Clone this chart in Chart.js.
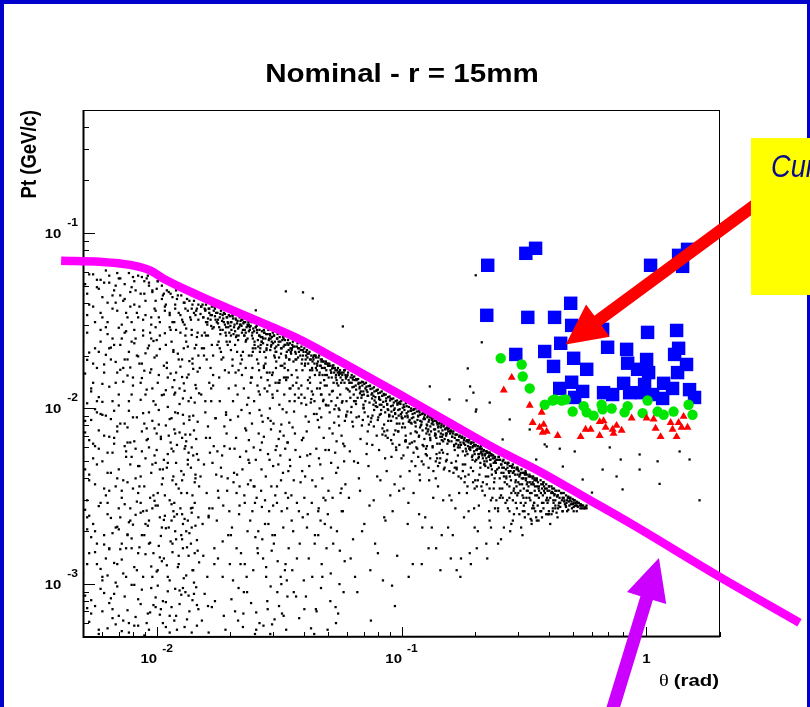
<!DOCTYPE html>
<html><head><meta charset="utf-8">
<script src="https://cdn.jsdelivr.net/npm/chart.js@4/dist/chart.umd.min.js"></script>
<style>html,body{margin:0;padding:0;background:#fff;}canvas{display:block;}</style>
</head><body>
<canvas id="c" width="810" height="707"></canvas>
<script>
// ---------- text ----------
const titleText = 'Nominal - r = 15mm';
const xTitleSymbol = 'θ';
const xTitleText = '(rad)';
const yTitleText = 'Pt (GeV/c)';
const boxText = 'Current cut';

// ---------- axes ----------
const xRange = [0.005, 2];
const yRange = [0.0005, 0.5];
const xMajorTicks = [0.01, 0.1, 1];
const xTickLabels = [['10', '-2'], ['10', '-1'], ['1', '']];
const yMajorTicks = [0.001, 0.01, 0.1];
const yTickLabels = [['10', '-3'], ['10', '-2'], ['10', '-1']];

// ---------- cut curve (theta rad, Pt GeV/c) ----------
const cutTheta = [0.00407, 0.00587, 0.00778, 0.00939, 0.01061, 0.01502, 0.02403, 0.03845, 0.05759, 0.09842, 0.1574, 0.2449, 0.3667, 0.5869, 0.8547, 1.992, 4.224];
const cutPt = [0.0693, 0.0684, 0.0657, 0.0611, 0.0550, 0.0436, 0.0329, 0.0247, 0.0182, 0.0120, 0.00827, 0.00584, 0.00438, 0.00301, 0.00223, 0.00110, 0.000603];

// ---------- coloured markers [theta rad, Pt GeV/c] ----------
const blueSquares = [[0.225,0.0653],[0.322,0.0764],[0.353,0.0816],[1.041,0.0653],[1.355,0.0744],[1.474,0.0805],[1.407,0.0644],
[0.223,0.0339],[0.328,0.0330],[0.422,0.0330],[0.491,0.0397],[0.4955,0.0297],[0.663,0.0282],[0.447,0.0235],[0.3845,0.0211],
[0.293,0.0203],[0.418,0.01735],[0.505,0.0193],[0.571,0.0167],[0.695,0.0223],[0.831,0.0217],[1.012,0.0271],[1.330,0.0278],
[1.355,0.0220],[1.305,0.0203],[1.003,0.0190],[0.839,0.0181],[0.9215,0.0167],[1.022,0.0160],[1.460,0.0178],[1.342,0.0160],
[0.443,0.0130],[0.4955,0.0141],[0.5496,0.0125],[0.5097,0.01155],[0.669,0.0123],[0.7285,0.0120],[0.808,0.0139],[0.984,0.0137],
[0.957,0.0123],[1.177,0.0139],[1.166,0.0114],[1.280,0.0130],[1.502,0.0128],[1.574,0.01155],[0.855,0.0123],[1.061,0.0120]];
const greenCircles = [[0.2543,0.0193],[0.3097,0.0178],[0.3128,0.0152],[0.334,0.0130],[0.3845,0.0105],[0.422,0.01125],[0.451,0.0111],
[0.5003,0.0096],[0.5548,0.0103],[0.571,0.0095],[0.609,0.0091],[0.657,0.0105],[0.663,0.0099],[0.722,0.0100],[0.815,0.0095],
[0.839,0.0103],[0.966,0.0094],[1.012,0.0111],[1.112,0.0096],[1.177,0.0092],[1.292,0.0096],[1.488,0.0105],[1.545,0.0092],
[0.4686,0.01125],[0.4144,0.0111]];
const redTriangles = [[0.282,0.0150],[0.2616,0.0127],[0.334,0.0104],[0.3738,0.0095],[0.3435,0.0083],[0.3667,0.0078],[0.3809,0.0081],
[0.392,0.0074],[0.3774,0.0073],[0.4345,0.0070],[0.539,0.0069],[0.565,0.0076],[0.5925,0.0076],[0.645,0.0084],[0.669,0.0085],
[0.682,0.0078],[0.645,0.0070],[0.7285,0.0076],[0.756,0.0080],[0.793,0.0075],[0.735,0.0072],[0.871,0.0088],[1.071,0.0087],
[1.091,0.0077],[1.144,0.0069],[1.257,0.0083],[1.280,0.0076],[1.355,0.0083],[1.394,0.0078],[1.474,0.0078],[1.420,0.0090],
[1.330,0.0069],[1.003,0.0088]];

// ---------- black scatter dots [theta rad, Pt GeV/c] ----------
const dotsLeft = [[0.0053,0.058],[0.0057,0.049],[0.0062,0.061],[0.0066,0.044],[0.0071,0.055],[0.0077,0.059],[0.0082,0.047],[0.0087,0.056],[0.0093,0.052],[0.0099,0.041],[0.0105,0.050],[0.0112,0.046],[0.0119,0.039],[0.0126,0.044],[0.0134,0.036],[0.0142,0.041],[0.0055,0.038],[0.006,0.033],[0.0064,0.052],[0.0069,0.036],[0.0074,0.042],[0.0079,0.031],[0.0085,0.038],[0.009,0.034],[0.0096,0.047],[0.0102,0.033],[0.0109,0.039],[0.0116,0.031],[0.0123,0.035],[0.013,0.040],[0.0138,0.032],[0.0146,0.037],[0.0052,0.045],[0.0059,0.054],[0.0068,0.05],[0.0075,0.035],[0.0081,0.053],[0.0089,0.045],[0.0095,0.03],[0.0101,0.053],[0.0108,0.036],[0.0114,0.045],[0.0121,0.042],[0.0128,0.031],[0.0136,0.041],[0.0144,0.034],[0.0056,0.031],[0.0063,0.04],[0.0072,0.03],[0.0078,0.046],[0.0084,0.033],[0.0092,0.057],[0.0098,0.037],[0.0106,0.044],[0.0113,0.034],[0.0131,0.037],[0.0148,0.039],
[0.0052,0.027],[0.0058,0.021],[0.0061,0.016],[0.0066,0.025],[0.007,0.012],[0.0076,0.019],[0.0081,0.028],[0.0086,0.014],[0.0092,0.022],[0.0097,0.011],[0.0103,0.026],[0.011,0.017],[0.0117,0.021],[0.0124,0.013],[0.0132,0.024],[0.014,0.018],[0.0147,0.027],[0.0054,0.013],[0.0059,0.024],[0.0065,0.019],[0.0071,0.023],[0.0077,0.011],[0.0083,0.02],[0.0088,0.026],[0.0094,0.016],[0.01,0.02],[0.0107,0.012],[0.0114,0.028],[0.012,0.016],[0.0127,0.019],[0.0135,0.011],[0.0143,0.022],[0.0055,0.018],[0.0062,0.029],[0.0068,0.014],[0.0074,0.027],[0.008,0.015],[0.0087,0.018],[0.0095,0.025],[0.0101,0.014],[0.0109,0.023],[0.0118,0.012],[0.0125,0.027],[0.0133,0.015],[0.0145,0.013],[0.0057,0.011],[0.0064,0.022],[0.0073,0.017],[0.0079,0.024],[0.009,0.012],[0.0099,0.029],[0.0111,0.015],[0.0129,0.022],[0.0139,0.028],
[0.0051,0.0085],[0.0056,0.0061],[0.006,0.0092],[0.0065,0.0043],[0.0069,0.0074],[0.0075,0.0053],[0.008,0.0089],[0.0085,0.0036],[0.0091,0.0066],[0.0096,0.0048],[0.0102,0.0081],[0.0108,0.0032],[0.0115,0.0059],[0.0122,0.0094],[0.0129,0.0042],[0.0137,0.0071],[0.0146,0.0055],[0.0053,0.0039],[0.0058,0.0075],[0.0063,0.0056],[0.0067,0.0097],[0.0072,0.0034],[0.0078,0.0064],[0.0084,0.0047],[0.0089,0.0082],[0.0094,0.0031],[0.01,0.0058],[0.0106,0.0045],[0.0113,0.0087],[0.012,0.0037],[0.0127,0.0068],[0.0134,0.0051],[0.0141,0.0091],[0.0055,0.0052],[0.0061,0.0035],[0.0067,0.0063],[0.0074,0.0082],[0.0082,0.004],[0.0087,0.0057],[0.0093,0.0095],[0.0104,0.0067],[0.0111,0.0049],[0.0119,0.0072],[0.0126,0.0033],[0.0136,0.0086],[0.0144,0.004],[0.0057,0.0095],[0.0064,0.0069],[0.0076,0.0038],[0.0098,0.0077],[0.0117,0.0041],[0.0131,0.0061],
[0.0052,0.0024],[0.0057,0.0013],[0.0061,0.0019],[0.0066,0.00072],[0.007,0.0027],[0.0075,0.0011],[0.0079,0.0016],[0.0084,0.00058],[0.009,0.0022],[0.0095,0.00095],[0.0101,0.0028],[0.0107,0.0014],[0.0113,0.00066],[0.012,0.0018],[0.0127,0.0025],[0.0135,0.00086],[0.0143,0.0015],[0.0054,0.00081],[0.0059,0.0029],[0.0064,0.0016],[0.0068,0.0021],[0.0073,0.00062],[0.0078,0.0023],[0.0083,0.0012],[0.0088,0.0026],[0.0093,0.0017],[0.0099,0.00074],[0.0105,0.0021],[0.0111,0.0011],[0.0118,0.0029],[0.0124,0.00092],[0.0132,0.002],[0.014,0.0012],[0.0148,0.0024],[0.0053,0.0015],[0.0058,0.00055],[0.0063,0.0025],[0.0069,0.0013],[0.0076,0.0019],[0.0081,0.00099],[0.0086,0.0029],[0.0092,0.00068],[0.0097,0.0015],[0.0103,0.0024],[0.0109,0.00079],[0.0116,0.0017],[0.0123,0.0013],[0.013,0.00057],[0.0138,0.0027],[0.0146,0.00076],[0.0056,0.002],[0.006,0.0011],[0.0067,0.00088],[0.0072,0.0017],[0.0087,0.0019],[0.0096,0.0027],[0.0106,0.0006],[0.0115,0.0023],[0.0128,0.0016],[0.0139,0.0021],[0.0077,0.00053],[0.0101,0.0012]];

const dotsBandMid = [[0.0152,0.038],[0.0155,0.033],[0.0158,0.036],[0.0161,0.031],[0.0164,0.037],[0.0168,0.034],[0.0171,0.029],[0.0175,0.035],[0.0178,0.032],[0.0182,0.028],[0.0186,0.034],[0.019,0.03],[0.0194,0.033],[0.0198,0.027],[0.0202,0.031],[0.0207,0.029],[0.0211,0.032],[0.0216,0.026],[0.022,0.03],[0.0225,0.028],[0.023,0.031],[0.0235,0.025],[0.024,0.029],[0.0246,0.027],[0.0251,0.023],[0.0257,0.028],[0.0263,0.026],[0.0269,0.024],[0.0275,0.027],[0.0281,0.022],[0.0288,0.025],[0.0294,0.023],[0.0301,0.026],[0.0308,0.021],[0.0315,0.024],[0.0322,0.022],[0.033,0.025],[0.0337,0.02],[0.0345,0.023],[0.0353,0.021],[0.0361,0.0225],[0.0369,0.019],[0.0378,0.022],[0.0386,0.02],[0.0395,0.0215],[0.0404,0.018],[0.0413,0.0205],[0.0423,0.019],[0.0432,0.0165],[0.0442,0.02],[0.0452,0.018],[0.0462,0.0155],[0.0473,0.019],[0.0484,0.017],[0.0495,0.018],[0.0159,0.039],[0.0173,0.037],[0.0188,0.031],[0.0204,0.034],[0.0222,0.032],[0.0238,0.03],[0.0254,0.029],[0.0272,0.025],[0.0291,0.026],[0.0311,0.025],[0.0333,0.023],[0.0357,0.022],[0.0381,0.021],[0.0408,0.02],[0.0437,0.019],[0.0467,0.0175],[0.0166,0.032],[0.0196,0.029],[0.0228,0.026],[0.0266,0.023],[0.0304,0.022],[0.0348,0.019],[0.0391,0.018],[0.0447,0.017],[0.0488,0.0155]];

const dotsMid = [[0.0153,0.026],[0.016,0.019],[0.0167,0.013],[0.0174,0.0088],[0.0181,0.022],[0.0189,0.0061],[0.0197,0.016],[0.0205,0.011],[0.0213,0.0042],[0.0223,0.019],[0.0232,0.0075],[0.0242,0.014],[0.0252,0.0029],[0.0263,0.0098],[0.0274,0.017],[0.0285,0.0055],[0.0297,0.012],[0.031,0.0036],[0.0323,0.0081],[0.0337,0.015],[0.0351,0.0047],[0.0366,0.011],[0.0381,0.0026],[0.0397,0.0068],[0.0414,0.013],[0.0432,0.0039],[0.045,0.0093],[0.0469,0.012],[0.0489,0.0058],[0.0156,0.0048],[0.0163,0.0024],[0.017,0.0155],[0.0178,0.0034],[0.0186,0.0011],[0.0193,0.0072],[0.0201,0.0019],[0.021,0.0135],[0.0218,0.0028],[0.0227,0.0009],[0.0237,0.0051],[0.0247,0.021],[0.0258,0.0016],[0.0269,0.0064],[0.028,0.0011],[0.0292,0.0085],[0.0304,0.0019],[0.0317,0.014],[0.033,0.00066],[0.0344,0.0031],[0.0359,0.0078],[0.0374,0.0014],[0.039,0.0107],[0.0407,0.00085],[0.0424,0.0055],[0.0442,0.0017],[0.0461,0.0078],[0.048,0.0031],[0.0158,0.011],[0.0165,0.0068],[0.0172,0.0013],[0.0184,0.0041],[0.0199,0.024],[0.0208,0.0059],[0.0221,0.0015],[0.0234,0.0105],[0.0249,0.0036],[0.0261,0.0125],[0.0277,0.0022],[0.0289,0.016],[0.0306,0.0058],[0.0321,0.0011],[0.0339,0.0095],[0.0356,0.0023],[0.0372,0.0165],[0.0393,0.0044],[0.0411,0.0021],[0.0428,0.0113],[0.0447,0.00072],[0.0466,0.0048],[0.0486,0.0135],[0.0162,0.00075],[0.0177,0.0057],[0.0192,0.0095],[0.0212,0.0033],[0.0229,0.0013],[0.0245,0.0082],[0.0268,0.0045],[0.0283,0.0008],[0.0299,0.0028],[0.0326,0.0175],[0.0342,0.0064],[0.0363,0.0009],[0.0385,0.0053],[0.0418,0.0084],[0.0457,0.0026],[0.0493,0.0104],[0.0169,0.0027],[0.0215,0.00062],[0.0255,0.00055],[0.0296,0.00059],[0.0336,0.0013],[0.0401,0.0031],[0.0475,0.0011]];

const dotsBandC = [[0.0505,0.0175],[0.0516,0.016],[0.0527,0.0176],[0.0539,0.015],[0.055,0.017],[0.0562,0.0158],[0.0574,0.0145],[0.0587,0.0165],[0.0599,0.0152],[0.0612,0.014],[0.0626,0.0155],[0.0639,0.0133],[0.0653,0.0147],[0.0667,0.0138],[0.0682,0.0125],[0.0697,0.0141],[0.0712,0.013],[0.0727,0.0118],[0.0743,0.0134],[0.0759,0.0122],[0.0776,0.0111],[0.0793,0.0127],[0.081,0.0116],[0.0828,0.0105],[0.0846,0.0121],[0.0864,0.011],[0.0883,0.0098],[0.0902,0.0114],[0.0922,0.0104],[0.0942,0.0093],[0.0962,0.0107],[0.0983,0.0099],[0.1004,0.0088],[0.1026,0.0102],[0.1049,0.0094],[0.1071,0.0084],[0.1095,0.0097],[0.1118,0.0089],[0.1143,0.0079],[0.1168,0.0091],[0.1193,0.0085],[0.1219,0.0075],[0.1246,0.0087],[0.1273,0.008],[0.13,0.0071],[0.1329,0.0082],[0.1358,0.0076],[0.1387,0.0068],[0.1417,0.0079],[0.1448,0.0072],[0.148,0.0065],[0.0521,0.0169],[0.0556,0.0161],[0.0593,0.0151],[0.0633,0.0146],[0.0675,0.0133],[0.072,0.0127],[0.0768,0.0118],[0.0819,0.0112],[0.0874,0.0105],[0.0932,0.0098],[0.0994,0.0093],[0.106,0.0089],[0.1131,0.0084],[0.1206,0.0081],[0.1287,0.0076],[0.1372,0.0072],[0.1464,0.0069],[0.0545,0.0139],[0.0605,0.0128],[0.0689,0.0119],[0.0785,0.0103],[0.0893,0.0091],[0.1015,0.0082],[0.1155,0.0073],[0.1312,0.0066],[0.1433,0.0063]];

const dotsC = [[0.0508,0.012],[0.0523,0.0072],[0.0541,0.0043],[0.0558,0.0098],[0.0576,0.0026],[0.0596,0.011],[0.0615,0.0057],[0.0634,0.0018],[0.0655,0.0089],[0.0677,0.0034],[0.0699,0.0105],[0.0722,0.0063],[0.0746,0.0012],[0.0771,0.0079],[0.0796,0.0041],[0.0823,0.0093],[0.085,0.0024],[0.0878,0.0068],[0.0907,0.0085],[0.0937,0.0037],[0.0968,0.0074],[0.1,0.0052],[0.1033,0.0078],[0.1067,0.0029],[0.1103,0.0064],[0.1139,0.0047],[0.1177,0.0069],[0.1216,0.0021],[0.1256,0.0055],[0.1297,0.0039],[0.134,0.0061],[0.1385,0.0016],[0.143,0.0049],[0.1478,0.0056],[0.0515,0.0021],[0.0551,0.00068],[0.0585,0.0061],[0.0622,0.0095],[0.0664,0.0049],[0.0705,0.0022],[0.0753,0.0088],[0.0801,0.0015],[0.0857,0.0052],[0.0915,0.00098],[0.0978,0.0034],[0.1042,0.0065],[0.1112,0.0013],[0.1185,0.0042],[0.1264,0.0072],[0.1348,0.0031],[0.1442,0.0012],[0.0532,0.0099],[0.0569,0.0035],[0.0646,0.0011],[0.0733,0.0047],[0.0836,0.0071],[0.0952,0.0058],[0.1079,0.0044],[0.1231,0.0061],[0.1398,0.0052]];

const dotsBandD = [[0.152,0.0072],[0.155,0.0066],[0.158,0.0074],[0.161,0.0069],[0.164,0.0062],[0.167,0.0071],[0.17,0.0066],[0.173,0.006],[0.177,0.0068],[0.18,0.0063],[0.184,0.0057],[0.187,0.0065],[0.191,0.006],[0.195,0.0054],[0.198,0.0062],[0.202,0.0058],[0.206,0.0052],[0.21,0.0059],[0.214,0.0055],[0.218,0.005],[0.223,0.0057],[0.227,0.0053],[0.232,0.0047],[0.236,0.0054],[0.241,0.005],[0.246,0.0045],[0.251,0.0051],[0.256,0.0048],[0.261,0.0043],[0.266,0.0049],[0.271,0.0046],[0.277,0.0041],[0.282,0.0047],[0.288,0.0044],[0.293,0.0039],[0.299,0.0045],[0.305,0.0042],[0.311,0.0037],[0.317,0.0043],[0.323,0.004],[0.33,0.0036],[0.336,0.0041],[0.343,0.0038],[0.35,0.0034],[0.357,0.0039],[0.364,0.0036],[0.371,0.0033],[0.378,0.0037],[0.386,0.0035],[0.393,0.0031],[0.401,0.0036],[0.409,0.0033],[0.417,0.003],[0.425,0.0034],[0.434,0.0032],[0.442,0.0029],[0.451,0.0033],[0.46,0.0031],[0.469,0.0028],[0.478,0.0031],[0.488,0.003],[0.497,0.0027],[0.507,0.003],[0.517,0.0028],[0.527,0.0029],[0.538,0.0027],[0.548,0.0028],[0.559,0.0027],[0.57,0.0028],[0.16,0.0074],[0.176,0.0069],[0.193,0.0064],[0.211,0.0061],[0.229,0.0056],[0.25,0.0053],[0.273,0.0049],[0.297,0.0046],[0.322,0.0043],[0.35,0.004],[0.38,0.0038],[0.413,0.0035],[0.448,0.0033],[0.487,0.0031],[0.165,0.0058],[0.182,0.0054],[0.2,0.005],[0.22,0.0047],[0.243,0.0043],[0.268,0.004],[0.295,0.0036],[0.325,0.0034],[0.358,0.0032],[0.395,0.0029],[0.436,0.0027],[0.475,0.0026],[0.52,0.0026],[0.171,0.0062],[0.189,0.0059],[0.208,0.0055],[0.231,0.0051],[0.258,0.0046],[0.285,0.0043],[0.314,0.004],[0.346,0.0037],[0.382,0.0034],[0.421,0.0032],[0.463,0.003],[0.505,0.0029],[0.541,0.0028]];

const dotsD = [[0.153,0.0051],[0.157,0.0032],[0.162,0.0019],[0.168,0.0045],[0.174,0.0011],[0.181,0.0038],[0.188,0.0026],[0.196,0.0044],[0.203,0.0016],[0.212,0.0036],[0.221,0.0041],[0.229,0.0023],[0.238,0.0035],[0.248,0.0017],[0.259,0.0031],[0.27,0.0037],[0.281,0.0022],[0.293,0.0029],[0.306,0.0034],[0.319,0.0024],[0.333,0.0031],[0.348,0.0027],[0.363,0.0023],[0.38,0.0029],[0.397,0.0025],[0.415,0.0027],[0.434,0.0024],[0.455,0.0026],[0.159,0.0014],[0.166,0.0027],[0.178,0.0048],[0.192,0.0013],[0.207,0.0028],[0.224,0.0014],[0.241,0.0027],[0.262,0.0021],[0.287,0.0034],[0.312,0.0019],[0.34,0.0022],[0.372,0.0026],[0.405,0.0022],[0.172,0.0033],[0.199,0.0021],[0.234,0.0042],[0.276,0.0026]];

const dotsAbove = [[0.201,0.0573],[0.2128,0.0238],[0.1865,0.0169],[0.1906,0.01334],[0.1967,0.0123],[0.2011,0.0096],[0.1845,0.0111],[0.1305,0.01334],[0.157,0.01125],[0.2021,0.00987],[0.2293,0.0108],[0.2767,0.00866],[0.2589,0.00666],[0.334,0.00759],[0.392,0.00607],[0.2946,0.00512],[0.355,0.00512],[0.456,0.00467],[0.5496,0.00394],[0.663,0.00449],[0.756,0.0041],[0.80,0.00346],[0.60,0.00332],[0.3845,0.00624],[0.443,0.0059],[0.51,0.00569],[0.709,0.0060],[0.786,0.00512],[0.939,0.00547],[1.112,0.0050],[1.368,0.00569],[1.502,0.00512],[0.0337,0.0464],[0.0396,0.0458],[0.0434,0.0423],[0.0254,0.0362],[0.0576,0.0293],[0.939,0.00449],[1.133,0.00372],[1.65,0.0030]];

// ---------- more black dots, in [theta mrad, Pt MeV/c] ----------
const moreLeftMrad = [[5.3,0.61],[8.7,0.93],[12.1,0.55],[6.4,0.78],[10.3,0.67],[14.2,0.88],[5.8,0.52],[7.6,0.71],[9.9,0.84],[13.3,0.63],[6.9,0.97],[11.5,0.74],[5.1,0.86],[8.1,0.58],[12.8,0.95],[7.2,0.54],[9.4,0.69],[14.8,0.72],[6.1,0.89],[10.9,0.57],[5.6,0.75],[13.9,0.53],[8.4,0.82],[11.1,0.91],[6.6,0.64],[7.9,0.99],[9.1,0.6],[12.4,0.77],[5.4,0.68],[14.5,0.96],[10.6,0.8],[6.3,0.56],[7.4,0.85],[13.6,0.7],[8.9,0.51],[11.8,0.62],[5.9,0.94],[9.7,0.76],[12.6,0.87],[7.0,0.66],[10.1,0.98],[6.8,0.59],[14.0,0.81],[8.2,0.65],[11.3,0.53],[5.2,0.73],[13.1,0.9],[9.3,0.55],[6.0,0.7],[7.7,0.6],[10.4,0.72],[12.0,0.66],[14.6,0.58],[8.6,0.77],[6.5,0.83],[11.9,0.94],
[5.2,1.3],[7.1,2.4],[9.6,1.1],[12.7,1.8],[6.3,2.9],[8.4,1.5],[11.2,2.1],[14.1,1.2],[5.7,1.7],[7.8,2.7],[10.5,1.35],[13.4,2.3],[6.0,1.05],[8.9,1.9],[11.7,2.6],[14.7,1.55],[5.5,2.2],[7.3,1.15],[9.9,2.8],[12.3,1.45],[6.6,1.95],[8.1,1.25],[10.8,2.45],[13.8,1.7],[5.1,2.65],[7.5,1.6],[9.2,2.15],[12.9,1.08],[6.2,1.4],[8.6,2.55],[11.4,1.75],[14.3,2.9],[5.9,1.22],[7.0,2.05],[10.2,1.65],[13.0,2.35],[6.8,1.02],[9.0,1.48],[11.9,2.0],[14.9,1.33],[5.4,1.85],[7.7,2.25],[10.0,1.18],[12.5,2.7],[6.4,1.58],[8.3,2.95],[11.0,1.28],[13.6,1.95],[5.3,2.45],[7.2,1.38],[9.4,1.72],[12.1,2.5],[6.9,2.12],[8.8,1.1],[11.6,1.52],[14.4,2.15],[5.8,2.78],[7.9,1.82],[10.7,2.32],[13.2,1.12],[6.1,1.68],[9.1,2.62],[12.6,1.9],[5.0,1.15],[7.4,2.85],[10.3,1.42],[13.9,2.55],[6.5,2.38],[8.5,1.62],[11.3,1.05],[14.6,1.78],[5.6,1.52],[8.0,2.18],[9.8,2.98],[12.2,1.25],[6.7,1.32],[10.9,2.08],[13.5,1.45],[7.6,1.92],[9.5,1.26],[11.8,2.42],[14.0,2.72],[5.2,2.05],[8.2,2.48],[10.4,1.88],[12.8,2.2],[6.3,1.12],[9.3,2.3],[11.5,2.85],[13.3,1.62],[7.1,1.58],[14.2,1.02],
[5.3,4.2],[7.6,7.8],[10.1,3.3],[13.5,5.6],[6.2,9.1],[8.5,4.7],[11.4,6.4],[14.3,3.8],[5.8,5.9],[7.2,3.1],[9.6,8.5],[12.6,4.4],[6.7,6.8],[8.9,3.6],[11.9,9.5],[14.8,5.1],[5.1,7.3],[7.9,5.3],[10.6,4.0],[13.1,7.1],[6.4,3.4],[8.3,8.9],[11.1,5.5],[14.0,3.2],[5.6,3.7],[7.4,6.1],[9.9,4.9],[12.9,8.2],[6.0,5.0],[8.7,7.4],[11.6,3.9],[14.5,6.7],[5.4,8.6],[7.0,4.5],[9.3,6.0],[12.3,3.5],[6.9,7.9],[9.0,5.2],[11.8,7.6],[13.8,4.6],[5.2,3.0],[7.7,9.7],[10.4,6.9],[13.3,3.3],[6.3,4.3],[8.1,6.5],[10.9,8.0],[14.1,5.4],[5.9,9.3],[7.3,3.9],[9.7,3.2],[12.1,6.2],[6.6,5.6],[8.6,4.1],[11.3,3.0],[14.7,8.4],[5.5,6.3],[7.8,4.8],[10.2,9.8],[13.0,5.9],[6.1,7.0],[8.4,3.3],[11.0,4.6],[13.6,9.0],[5.0,5.3],[7.1,8.2],[9.5,4.3],[12.4,7.3],[6.8,3.6],[8.8,9.4],[11.7,5.7],[14.4,4.2],[5.7,4.8],[7.5,5.7],[10.0,7.2],[12.7,3.9],[6.5,8.7],[9.2,6.7],[11.5,8.8],[13.9,6.0],[5.3,6.6],[8.0,3.5],[10.7,5.1],[13.4,4.8],[6.2,3.2],[9.1,7.7],[12.0,4.9],[14.9,3.6],[5.6,9.9],[7.6,6.4],[10.5,3.7],[12.8,9.2],[6.9,4.0],[9.8,5.4],[11.2,7.0],[14.2,7.5],[5.1,4.5],[8.2,5.9],[10.3,4.5],[13.2,6.5],
[5.4,12.5],[7.7,21],[10.2,15.5],[13.1,26],[6.1,17.8],[8.6,11.2],[11.5,24],[14.4,13.6],[5.9,28],[7.3,14.2],[9.8,19.5],[12.4,10.6],[6.7,23],[8.9,16.4],[11.9,12.3],[14.8,20],[5.2,18.9],[7.0,10.4],[9.4,27],[12.7,15.1],[6.4,13.3],[8.2,25],[11.0,18.2],[13.8,11.5],[5.6,22],[7.8,17.1],[10.5,11.9],[13.4,22.5],[6.0,10.9],[8.4,19.8],[11.3,29],[14.1,16.8],[5.1,15.8],[7.5,27.5],[9.6,13.0],[12.2,20.5],[6.9,16.0],[9.1,12.8],[11.7,21.5],[14.6,25.5],[5.8,11.6],[7.4,19.0],[10.0,24.5],[12.9,13.9],[6.3,26.5],[8.7,14.9],[11.1,10.2],[13.6,18.6],[5.3,20.8],[7.9,12.0],[10.7,17.5],[13.2,28.5],[6.6,11.0],[8.1,23.5],[11.8,14.5],[14.3,10.8],[5.5,14.0],[7.2,25.0],[9.9,10.5],[12.5,17.3],[6.2,20.2],[8.8,27.8],[11.4,15.8],[14.9,12.2],[5.0,24.0],[7.6,15.4],[10.3,21.8],[13.0,12.6],[6.8,18.4],[9.3,22.8],[12.0,28.0],[14.0,19.2],[5.7,17.0],[8.0,13.5],[10.8,26.8],[13.5,15.6],[6.5,22.2],[9.5,16.7],[12.8,11.4],[5.2,10.7],[7.1,16.6],[9.0,20.6],[11.6,13.2],[14.5,23.0],[6.0,13.8],[8.5,18.0],[10.9,12.7],[13.9,26.2],[7.0,28.8],[9.7,24.2],[12.3,19.0],[14.7,16.2],
[5.2,34],[6.1,52],[7.3,41],[8.4,57],[9.6,46],[10.8,38],[12.2,44],[13.7,33],[5.5,58],[6.6,37],[7.9,49],[8.8,32],[10.1,53],[11.3,35],[12.9,40],[14.5,36],[5.0,44],[6.3,31],[7.0,55],[8.1,39],[9.3,50],[10.5,42],[11.8,31],[14.0,39],[5.8,48],[6.9,59],[7.6,33],[8.6,45],[9.9,36],[11.0,47],[12.5,34],[13.3,42],[5.3,39],[6.0,43],[7.4,51],[8.3,35],[9.1,55],[10.3,31],[11.6,43],[14.8,32],[5.7,54],[6.7,47],[7.8,38],[9.0,41],[10.0,48],[11.9,37],[13.0,30],[14.2,35],[5.1,51],[6.4,57],[7.1,44],[8.9,53],[9.5,33],[10.7,45],[12.0,47],[13.9,37],[5.9,35],[6.8,40],[8.0,56],[12.7,32]];

const moreBandMrad = [[15.2,38],[15.5,33],[15.8,36.5],[16.1,30],[16.3,37],[16.6,34],[16.9,28.5],[17.1,36],[17.4,32],[17.7,35],[18.0,29],[18.2,34.5],[18.5,31.5],[18.8,35],[19.1,27],[19.3,33],[19.6,30.5],[19.9,33.5],[20.2,28],[20.5,32.5],[20.8,30],[21.1,25.5],[21.4,31.5],[21.7,29],[22.0,31.5],[22.3,27],[22.6,30.5],[22.9,28],[23.2,24.5],[23.5,30],[23.8,27.5],[15.4,39],[15.9,31],[16.4,35],[16.8,38],[17.3,33.5],[17.8,30.5],[18.3,36],[18.7,32.5],[19.2,29],[19.7,34],[20.1,31],[20.6,26.5],[21.0,32.5],[21.5,28.5],[21.9,30],[22.4,32],[22.8,26],[23.3,29],[23.7,31],[15.1,34.5],[15.7,37],[16.2,32.5],[16.7,29.5],[17.2,38],[17.6,31],[18.1,33],[18.6,28],[19.0,34.5],[19.5,31],[20.0,29.5],[20.4,33.5],[20.9,27.5],[21.3,30.5],[21.8,33],[22.2,29.5],[22.7,31],[23.1,27],[23.6,29.5],[24.0,28],
[24.2,29.5],[24.5,26],[24.8,28.5],[25.1,24],[25.4,29],[25.7,27],[26.0,22.5],[26.3,28],[26.6,25.5],[26.9,27.5],[27.2,23.5],[27.5,27],[27.8,25],[28.1,21.5],[28.4,26.5],[28.7,24.5],[29.0,26.5],[29.3,22.5],[29.6,25.5],[29.9,23.5],[30.2,26],[30.6,21],[31.0,25],[31.4,23],[31.8,25.5],[32.2,20.5],[32.6,24.5],[33.0,22.5],[33.4,24.5],[33.8,19.5],[34.2,23.5],[34.6,21.5],[35.0,23.5],[35.4,20.5],[35.8,23],[36.2,18.5],[36.6,22.5],[37.0,20.5],[37.4,22.5],[37.8,19.5],[38.2,22],[24.4,31],[25.0,27.5],[25.6,29.5],[26.2,26],[26.8,24],[27.4,28],[28.0,26.5],[28.6,28],[29.2,25],[29.8,27],[30.4,24],[31.2,26.5],[32.0,24],[32.8,25.5],[33.6,23],[34.4,24.5],[35.2,22],[36.0,24],[36.8,21],[37.6,23.5],[24.7,25],[25.9,24.5],[27.0,25.5],[28.3,23],[29.5,24],[30.8,22.5],[32.4,22],[34.0,21],[35.6,21.5],[37.2,19],[26.5,22],[29.1,21.5],[31.6,19.5],[34.8,19],
[38.8,21.5],[39.3,19],[39.8,21],[40.3,17.5],[40.8,21],[41.3,19.5],[41.8,20.5],[42.3,16.5],[42.8,20],[43.3,18.5],[43.8,20],[44.3,15.5],[44.8,19.5],[45.3,17.5],[45.8,19.5],[46.3,16],[46.8,19],[47.3,17],[47.8,18.5],[48.3,14.5],[48.8,18],[49.3,16.5],[49.8,18],[50.4,15],[51.0,17.5],[51.6,16],[52.2,17.5],[52.8,14],[53.4,17],[54.0,15.5],[54.6,16.5],[55.2,13.5],[55.8,16],[56.4,15],[57.0,16],[39.0,22.5],[39.6,20],[40.1,22],[40.6,19],[41.1,21.5],[41.6,18],[42.1,21],[42.6,19],[43.1,17],[43.6,19.5],[44.1,18],[44.6,20],[45.1,16.5],[45.6,18.5],[46.1,20],[46.6,17.5],[47.1,18.5],[47.6,15.5],[48.1,18.5],[48.6,17],[49.1,18.5],[49.6,15.5],[50.1,17.5],[50.7,18],[51.3,16.5],[51.9,15],[52.5,17],[53.1,16],[53.7,16.5],[54.3,14.5],[54.9,16],[55.5,15.5],[56.1,16.5],[56.7,14],[57.3,15.5],
[58,16],[58.5,14],[59,15.5],[59.6,13],[60.2,15.5],[60.8,14.5],[61.4,12.5],[62,15],[62.6,14],[63.2,15],[63.8,12],[64.4,14.5],[65,13.5],[65.6,14.5],[66.2,11.5],[66.8,14],[67.4,13],[68,14],[68.6,11.5],[69.2,13.5],[69.8,12.5],[70.5,13.8],[71.2,11],[71.9,13.3],[72.6,12.4],[73.3,13.4],[74,10.8],[74.7,12.9],[75.4,12],[76.1,13],[76.8,10.5],[77.5,12.5],[78.2,11.6],[78.9,12.6],[79.6,10.2],[80.3,12.2],[81,11.3],[81.8,12.3],[82.6,9.8],[83.4,11.8],[84.2,10.9],[85,11.9],[85.8,9.5],[86.6,11.4],[87.4,10.6],[88.2,11.6],[89,9.2],[89.8,11.1],[90.6,10.3],[91.4,11.3],[92.2,9],[93,10.8],[93.8,10],[94.6,11],[95.4,8.8],[96.2,10.5],[97,9.8],[97.8,10.7],[58.3,16.5],[59.3,14.8],[60.5,16],[61.7,14],[63,13.2],[64.1,15.2],[65.3,12.8],[66.5,14.7],[67.7,12.2],[69,14.2],[70.2,12],[71.6,14],[73,11.8],[74.4,13.5],[75.8,11.4],[77.2,13.2],[78.6,10.8],[80,12.8],[81.5,10.5],[83,12.5],[84.6,10.2],[86.2,12],[87.8,9.9],[89.4,11.7],[91,9.6],[92.6,11.4],[94.2,9.4],[95.8,11.1],[97.4,9.1],[98.2,10.9],
[99,10.6],[100.5,9.5],[102,10.5],[103.5,9],[105,10.3],[106.5,9.6],[108,8.6],[109.5,10],[111,9.3],[112.5,9.9],[114,8.3],[115.5,9.6],[117,9],[118.5,9.5],[120,8],[121.5,9.3],[123,8.7],[124.5,9.2],[126,7.7],[127.5,8.9],[129,8.4],[130.5,8.9],[132,7.4],[133.5,8.6],[135,8.1],[136.5,8.5],[138,7.1],[139.5,8.3],[141,7.8],[142.5,8.2],[144,6.9],[145.5,8],[147,7.5],[148.5,7.9],[150,6.7],[151.5,7.7],[153,7.2],[154.5,7.6],[156,6.5],[99.8,11],[101.2,10.1],[102.8,9.8],[104.2,10.7],[105.8,9.1],[107.2,10.2],[108.8,9.7],[110.2,8.8],[111.8,9.8],[113.2,9.4],[114.8,10],[116.2,8.6],[117.8,9.7],[119.2,9.2],[120.8,8.4],[122.2,9.4],[123.8,8.9],[125.2,9.4],[126.8,8.1],[128.2,9.1],[129.8,8.6],[131.2,7.9],[132.8,8.8],[134.2,8.4],[135.8,8.8],[137.2,7.6],[138.8,8.5],[140.2,8.1],[141.8,7.4],[143.2,8.3],[144.8,7.8],[146.2,8.2],[147.8,7.1],[149.2,8],[150.8,7.6],[152.2,7],[153.8,7.8],[155.2,7.4],[156.6,7.7],[101,8.8],[110,8.2],[119,7.8],[128,7.4],[137,7],[146,6.6],[154,6.3],
[158,7.2],[160,6.5],[162,7.2],[164,6.1],[166,7.1],[168,6.6],[170,6],[172,6.9],[174,6.4],[176,6.8],[178,5.7],[180,6.6],[182,6.2],[184,6.5],[186,5.5],[188,6.4],[190,6],[192,6.3],[194,5.3],[196,6.1],[198,5.7],[200,6.1],[202,5.1],[204,5.9],[206,5.5],[208,5.9],[210,4.9],[212,5.7],[214,5.4],[216,5.7],[218,4.8],[220,5.5],[222,5.2],[224,5.6],[226,4.6],[228,5.4],[230,5.1],[232,5.4],[234,4.5],[236,5.2],[238,4.9],[240,5.2],[242,4.4],[244,5.1],[159,7.5],[161,6.9],[163,7.4],[165,6.8],[167,6.3],[169,7.1],[171,6.6],[173,7],[175,6.2],[177,6.9],[179,6.4],[181,6.8],[183,5.9],[185,6.6],[187,6.1],[189,6.6],[191,5.8],[193,6.4],[195,6],[197,6.4],[199,5.5],[201,6.2],[203,5.8],[205,6.1],[207,5.3],[209,6],[211,5.6],[213,5.9],[215,5.2],[217,5.8],[219,5.4],[221,5.7],[223,5.0],[225,5.6],[227,5.3],[229,5.6],[231,4.8],[233,5.5],[237,5.4],[241,5.3],[243,4.9],
[247,5.1],[250,4.6],[253,5.1],[256,4.3],[259,5],[262,4.6],[265,4.9],[268,4.1],[271,4.8],[274,4.4],[277,4.7],[280,3.9],[283,4.6],[286,4.3],[289,4.6],[292,3.8],[295,4.5],[298,4.2],[301,4.4],[304,3.7],[307,4.3],[310,4],[313,4.3],[316,3.5],[319,4.2],[322,3.9],[325,4.2],[328,3.4],[331,4.1],[334,3.8],[337,4.1],[340,3.3],[343,4],[346,3.7],[349,3.9],[352,3.2],[355,3.9],[358,3.6],[361,3.8],[364,3.1],[249,5.3],[255,4.8],[261,5.1],[267,4.5],[273,4.9],[279,4.4],[285,4.8],[291,4.2],[297,4.6],[303,4.1],[309,4.5],[315,4],[321,4.4],[327,3.8],[333,4.2],[339,3.7],[345,4.1],[351,3.6],[357,4],[363,3.5],[252,4],[264,3.8],[276,3.6],[288,3.5],[300,3.3],[312,3.2],[324,3.1],[336,3],[348,2.9],[360,2.8],
[370,3.9],[375,3.5],[380,3.8],[385,3.3],[390,3.7],[395,3.4],[400,3.6],[405,3.1],[410,3.6],[415,3.3],[420,3.5],[425,3],[430,3.4],[435,3.2],[440,3.4],[445,2.9],[450,3.3],[455,3.1],[460,3.3],[465,2.85],[470,3.2],[475,3],[480,3.15],[485,2.8],[490,3.1],[495,2.95],[500,3.05],[505,2.75],[510,3],[515,2.9],[520,2.95],[525,2.75],[530,2.9],[535,2.8],[540,2.85],[546,2.7],[552,2.8],[558,2.7],[564,2.75],[570,2.7],[372,3.7],[382,3.6],[392,3.5],[402,3.4],[412,3.35],[422,3.25],[432,3.15],[442,3.1],[452,3.0],[462,2.95],[472,2.9],[482,2.95],[492,2.85],[502,2.85],[512,2.8],[522,2.8],[378,3.2],[398,3.0],[418,2.9],[438,2.8]];

const moreBandLowerMrad = [[20.4,19],[23.1,24],[26.7,15],[30.2,20],[34.9,13],[39.4,16.5],[44.1,11],[49.5,13.5],[55.3,9],[61.8,11.5],[68.9,8],[77.3,9.8],[86.1,7],[95.7,8.2],[106,6],[118,7],[131,5.2],[146,5.8],[163,4.3],[182,4.8],[203,3.6],[226,4.1],[252,3.1],[281,3.3],[313,2.6],[348,2.9],[21.6,16.5],[25.3,22],[28.9,13.5],[32.1,17.5],[36.7,12],[41.5,14.5],[46.3,10],[52.4,12.6],[58.7,8.5],[65.2,10.6],[72.8,7.4],[81.5,9.2],[90.7,6.6],[100.6,7.8],[112,5.6],[124,6.7],[138,5.0],[154,5.5],[171,4.1],[192,4.6],[214,3.4],[239,3.8],[266,2.9],[297,3.2],[330,2.5],[369,2.6],[22.5,21],[26.0,18],[29.8,16],[33.8,14.5],[38.0,13],[43.0,12.5],[48.0,11.2],[53.9,10.4],[60.1,9.6],[67.0,9.0],[74.9,8.4],[83.6,7.7],[93.1,7.1],[103.5,6.5],[115,6.0],[127,5.4],[141,4.7],[157,4.4],[175,4.0],[196,3.8],[219,3.2],[244,3.0],[272,2.7],[303,2.5],[337,2.35],[375,2.4],[20.9,23],[24.6,17],[27.9,19.5],[31.4,14],[35.6,15.5],[40.2,11.5],[45.2,13],[50.9,9.5],[57.1,10.8],[63.4,7.9],[70.7,9.5],[79.2,7.0],[88.3,8.5],[98.0,6.2],[109,7.2],[121,5.0],[134,6.0],[149,4.5],[167,5.0],[186,3.6],[208,4.2],[232,3.0],[258,3.5],[288,2.5],[321,2.9],[357,2.3],[21.2,26],[23.8,20],[27.4,17.5],[30.8,18.5],[34.3,15],[37.2,14],[42.2,15],[47.1,12],[51.7,11],[56.2,12],[62.5,10.2],[69.5,8.6],[76.1,9.1],[84.9,8.1],[94.4,7.5],[104,7.0],[113,6.5],[126,5.9],[139,5.5],[152,5.0],[168,4.6],[188,4.2],[205,3.9],[229,3.5],[255,3.2],[285,3.0],[316,2.8],[352,2.6],[390,2.5],[20.1,21.5],[22.0,18],[24.3,15],[26.4,21],[28.4,14.5],[31.1,12.6],[33.3,18],[36.0,13.5],[39.0,12],[42.6,10.8],[46.7,14],[50.3,10.4],[54.7,11.5],[59.5,9.2],[64.0,11],[70.0,10.1],[73.6,8.1],[80.4,8.9],[87.5,7.5],[91.9,6.3],[97.1,7.4],[101.8,5.4],[108,6.3],[117,5.3],[122,6.2],[129,4.6],[144,5.2],[160,4.9],[178,4.4],[199,3.5],[223,3.7],[248,2.7],[276,3.1],[307,2.9],[342,2.7],[380,2.7],[410,2.5],[15.3,22],[16.2,26],[17.0,20],[17.9,24],[18.7,19.5],[19.5,23],[15.7,27],[16.8,23],[18.3,21],[19.2,26],[400,2.6],[430,2.55],[455,2.6],[480,2.65],[505,2.6],[445,2.75],[470,2.75],[425,2.7]];

const moreMidMrad = [[15.3,0.62],[17.8,1.4],[20.6,3.8],[23.4,0.9],[26.1,7.2],[29.7,1.9],[33.2,12],[16.4,2.7],[19.1,0.55],[21.9,5.3],[24.8,1.2],[28.2,16],[31.6,0.75],[34.5,4.4],[15.8,9.5],[18.4,19],[21.2,1.6],[24.1,2.3],[27.3,0.58],[30.9,6.1],[34.0,1.05],[16.9,4.9],[19.7,13],[22.6,0.68],[25.6,3.1],[29.0,10],[32.4,2.6],[15.6,22],[18.9,7.9],[21.6,0.95],[24.5,15],[27.9,4.1],[31.2,1.35],[34.8,8.3],[16.1,1.1],[19.4,3.4],[22.2,9.8],[25.2,0.52],[28.6,2.2],[32.0,5.4],[17.3,0.8],[20.3,2.1],[23.1,17],[26.5,5.8],[30.3,0.63],[33.6,3.3],[15.1,4.1],[18.1,11],[20.9,0.7],[23.8,6.6],[27.0,1.8],[30.6,14],[34.2,0.85],[16.6,17],[19.9,5.9],[22.9,2.9],[26.8,9.1],[29.4,3.6],[33.0,7.0],[17.6,2.3],[21.4,12],[24.3,0.78],[27.6,13],[31.4,4.8],[15.9,6.8],[18.6,1.75],[22.4,4.5],[25.9,1.5],[29.2,0.97],[32.7,9.9],[16.3,0.53],[20.0,8.6],[23.6,3.7],[27.4,6.9],[31.0,2.9],[34.6,1.6],[17.1,6.1],[19.3,24],[22.0,1.3],[25.0,11],[28.4,0.72],[32.2,3.9],[15.5,1.45],[18.3,4.6],[21.0,16],[24.6,2.6],[28.9,5.1],[33.4,1.2],[16.7,11],[20.5,1.05],[23.0,7.7],[26.3,0.6],[30.0,8.2],[34.3,6.4],[17.9,3.1],[21.7,2.5],[25.4,5.1],[29.8,11.5],[15.2,12],[18.8,0.66],[22.7,13],[26.0,2.0],[30.5,3.2],[33.8,0.55],[16.0,3.3],[19.6,1.9],[23.3,1.1],[27.1,8.4],[31.8,14.5],[17.4,8.8],[21.1,6.8],[25.8,13.5],[29.5,1.55],[32.9,2.1],[15.7,0.88],[18.7,2.8],[22.1,20],[26.7,3.4],[31.1,0.9],[34.9,11],[16.5,5.6],[20.2,0.82],[24.0,9.4],[28.0,1.25],[33.5,5.9],[17.2,1.6],[21.8,3.6],[25.5,0.69],[29.3,7.6],[15.4,2.2],[19.2,9.2],[23.5,2.0],[27.7,3.0],[32.5,0.68],[16.8,0.74],[20.7,4.3],[24.9,6.0],[30.1,1.7],[34.1,2.7],[18.0,15],[22.5,0.57],[26.4,12],[31.5,6.7],[15.0,17],[19.8,2.6],[23.9,4.9],[28.8,2.6],[33.1,15],[17.0,13.5],[21.5,9.0],[25.3,1.85],[29.9,4.7],[16.2,7.9],[20.4,17.5],[24.2,3.9],[28.5,8.8],[32.8,4.3],[18.5,5.4],[22.8,3.2],[27.2,1.4],[31.7,10.5],[15.9,26],[19.5,4.0],[23.7,11.5],[27.8,18],[17.7,23],[21.3,21],[25.7,19],[30.7,17],[16.4,14],[20.1,26],[24.4,20],[28.3,12.5],[19.0,16.5],[22.3,15.5],[26.2,16.5],[29.6,15.5],[33.3,17],[15.6,20],[18.2,26.5],[21.5,24.5],[24.7,22],[27.5,21],[30.4,19.5],[34.4,16.5],[17.5,4.2],[23.2,5.7],[29.1,0.52],[32.3,1.0],[16.3,2.45],[26.9,2.75],[19.9,1.3],[25.1,3.6],[31.9,7.4],
[35.5,3.2],[38.2,0.64],[41.0,7.4],[44.3,1.9],[47.8,11],[51.2,0.8],[55.0,4.6],[58.6,1.35],[36.4,9.6],[39.5,2.4],[42.7,0.56],[46.0,5.2],[49.4,1.6],[53.1,8.3],[57.0,2.6],[35.8,1.2],[37.6,15],[40.4,4.1],[43.5,12],[46.9,0.95],[50.3,3.4],[54.0,0.6],[57.8,6.3],[36.9,5.8],[39.9,1.05],[43.0,2.9],[45.5,8.6],[48.6,2.2],[52.0,12.5],[55.8,1.0],[59.4,9.0],[35.2,13],[38.7,3.8],[41.8,1.4],[45.0,0.7],[48.1,6.8],[51.6,4.9],[56.4,3.3],[37.1,0.85],[40.8,10.5],[44.6,3.6],[47.2,1.3],[50.8,7.7],[54.5,2.0],[58.0,0.9],[36.1,2.0],[39.2,6.6],[42.3,14],[45.9,2.7],[49.9,0.55],[53.6,5.6],[57.4,11],[38.0,11.5],[41.4,2.5],[44.9,5.9],[48.9,3.0],[52.6,1.7],[56.9,7.0],[36.7,7.2],[40.1,0.72],[43.9,9.3],[47.5,4.0],[51.4,1.15],[55.4,10],[59.0,3.7],[37.4,2.9],[42.0,4.7],[46.4,13],[50.0,2.5],[54.3,6.5],[35.0,5.1],[39.0,13.5],[43.2,1.1],[47.0,8.9],[52.3,3.1],[58.3,5.0],[38.4,1.7],[44.0,0.52],[49.1,10.5],[53.8,0.74],[41.2,5.4],[45.7,1.9],[50.5,5.8],[56.0,1.55],[36.3,3.9],[40.6,9.0],[46.7,2.3],[55.6,8.0],
[61,3.1],[66,0.9],[72,5.5],[78,1.7],[85,7.4],[92,2.6],[99,4.1],[107,1.1],[116,5.9],[125,2.4],[135,4.4],[146,1.9],[63,8.4],[69,2.0],[75,0.62],[82,3.9],[89,9.0],[96,1.45],[104,6.6],[112,3.3],[121,1.3],[131,6.8],[141,3.6],[64,5.0],[70,10],[77,3.0],[84,1.05],[91,5.3],[98,8.2],[106,2.2],[114,7.4],[123,4.8],[133,2.1],[143,5.6],[62,1.4],[68,6.7],[74,2.8],[80,8.6],[87,4.4],[94,0.75],[102,3.5],[110,5.0],[118,2.5],[127,6.1],[138,4.0],[148,3.0],[65,11],[73,9.0],[81,5.8],[90,3.2],[100,9.0],[109,8.3],[119,3.9],[129,1.6],[140,6.3],[150,4.6],[67,4.0],[76,6.2],[86,2.3],[95,6.0],
[155,2.1],[165,4.6],[175,1.4],[185,3.3],[195,5.1],[205,2.0],[215,3.8],[228,2.6],[240,4.0],[255,1.8],[270,3.0],[285,2.3],[300,3.8],[318,2.6],[335,3.3],[355,2.4],[375,2.9],[400,2.5],[425,2.8],[160,3.0],[170,5.4],[180,2.4],[190,1.5],[200,3.9],[210,4.6],[222,1.7],[235,3.1],[248,2.6],[262,4.1],[278,2.0],[292,3.3],[308,2.1],[325,3.7],[345,2.8],[365,3.4],[390,3.0],[415,2.6],[440,2.9],[168,1.2],[182,4.1],[198,2.7],[218,4.8],[232,2.1],[252,3.5],[275,4.3],[296,2.7],[315,3.1],[340,2.3]];

// ---------- annotation anchors (data units) ----------
const redArrow = {tail: [2.90, 0.1504], tip: [0.4686, 0.02316]};
const violetArrow = {tail: [0.707, 0.000169], tip: [1.126, 0.00141]};

// ---------- build ----------
const toXY = a => a.map(([x, y]) => ({x, y}));
const fromMrad = a => a.map(([t, p]) => ({x: t / 1000, y: p / 1000}));
const cutCurve = cutTheta.map((t, i) => ({x: t, y: cutPt[i]}));
const allDots = toXY([].concat(dotsLeft, dotsBandMid, dotsMid, dotsBandC, dotsC, dotsBandD, dotsD, dotsAbove))
  .concat(fromMrad(moreLeftMrad), fromMrad(moreBandMrad), fromMrad(moreBandLowerMrad), fromMrad(moreMidMrad));

const SANS = '"Liberation Sans", Arial, Helvetica, sans-serif';
function sText(ctx, text, x, y, font, sx, align) {
  ctx.save();
  ctx.font = font;
  const w = ctx.measureText(text).width * sx;
  const x0 = align === 'center' ? x - w / 2 : align === 'right' ? x - w : x;
  ctx.translate(x0, y);
  ctx.scale(sx, 1);
  ctx.textAlign = 'left';
  ctx.textBaseline = 'alphabetic';
  ctx.fillText(text, 0, 0);
  ctx.restore();
  return w;
}
function textW(ctx, text, font, sx) { ctx.save(); ctx.font = font; const w = ctx.measureText(text).width * sx; ctx.restore(); return w; }

function drawArrow(ctx, tail, tip, shaftW, headLen, headHalf, color) {
  const dx = tip.x - tail.x, dy = tip.y - tail.y, L = Math.hypot(dx, dy);
  const ux = dx / L, uy = dy / L, nx = -uy, ny = ux;
  const bx = tip.x - ux * headLen, by = tip.y - uy * headLen;
  ctx.save();
  ctx.fillStyle = color;
  ctx.beginPath();
  ctx.moveTo(tail.x + nx * shaftW / 2, tail.y + ny * shaftW / 2);
  ctx.lineTo(bx + nx * shaftW / 2, by + ny * shaftW / 2);
  ctx.lineTo(bx + nx * headHalf, by + ny * headHalf);
  ctx.lineTo(tip.x, tip.y);
  ctx.lineTo(bx - nx * headHalf, by - ny * headHalf);
  ctx.lineTo(bx - nx * shaftW / 2, by - ny * shaftW / 2);
  ctx.lineTo(tail.x - nx * shaftW / 2, tail.y - ny * shaftW / 2);
  ctx.closePath();
  ctx.fill();
  ctx.restore();
}

const decor = {
  id: 'decor',
  beforeDraw(chart) {
    const ctx = chart.ctx;
    ctx.save();
    ctx.fillStyle = '#ffffff';
    ctx.fillRect(0, 0, chart.width, chart.height);
    ctx.fillStyle = '#0000cd';
    ctx.fillRect(0, 0, chart.width, 4);
    ctx.fillRect(0, 0, 4, chart.height);
    ctx.fillRect(chart.width - 3, 0, 3, chart.height);
    ctx.restore();
  },
  beforeDatasetsDraw(chart) {
    const ctx = chart.ctx, a = chart.chartArea, xs = chart.scales.x, ys = chart.scales.y;
    ctx.save();
    ctx.strokeStyle = '#000';
    ctx.lineWidth = 1;
    ctx.strokeRect(Math.round(a.left) + 0.5, Math.round(a.top) + 0.5, Math.round(a.right - a.left) - 1, Math.round(a.bottom - a.top) - 1);
    ctx.lineWidth = 2;
    ctx.beginPath();
    ctx.moveTo(Math.round(a.left) + 0.5, Math.round(a.top));
    ctx.lineTo(Math.round(a.left) + 0.5, Math.round(a.bottom));
    ctx.lineTo(Math.round(a.right), Math.round(a.bottom) - 0.5);
    ctx.stroke();
    ctx.lineWidth = 1;
    ctx.beginPath();
    for (let e = -4; e <= 0; e++) {
      for (let k = 1; k <= 9; k++) {
        const v = k * Math.pow(10, e);
        if (v < yRange[0] * 0.999 || v > yRange[1] * 1.001) continue;
        const py = Math.round(ys.getPixelForValue(v)) + 0.5;
        const len = k === 1 ? 12 : 6;
        ctx.moveTo(a.left, py); ctx.lineTo(a.left + len, py);
      }
    }
    for (let e = -3; e <= 0; e++) {
      for (let k = 1; k <= 9; k++) {
        const v = k * Math.pow(10, e);
        if (v < xRange[0] * 0.999 || v > xRange[1] * 1.001) continue;
        const px = Math.round(xs.getPixelForValue(v)) + 0.5;
        const len = k === 1 ? 10 : 5;
        ctx.moveTo(px, a.bottom); ctx.lineTo(px, a.bottom - len);
      }
    }
    ctx.stroke();
    ctx.fillStyle = '#000';
    const fBase = 'bold 13px ' + SANS, fExp = 'bold 10.5px ' + SANS, SX = 1.15;
    yMajorTicks.forEach((v, i) => {
      const py = ys.getPixelForValue(v);
      const [b, ex] = yTickLabels[i];
      const we = textW(ctx, ex, fExp, SX);
      const xe = a.left - 5 - we;
      sText(ctx, ex, xe, py - 7, fExp, SX, 'left');
      sText(ctx, b, xe - 6, py + 5, fBase, SX, 'right');
    });
    xMajorTicks.forEach((v, i) => {
      const px = xs.getPixelForValue(v);
      const [b, ex] = xTickLabels[i];
      const wb = textW(ctx, b, fBase, SX);
      if (!ex) { sText(ctx, b, px, a.bottom + 26, fBase, SX, 'center'); return; }
      const we = textW(ctx, ex, fExp, SX);
      const total = wb + 5 + we;
      const x0 = px - total / 2;
      sText(ctx, b, x0, a.bottom + 26, fBase, SX, 'left');
      sText(ctx, ex, x0 + wb + 5, a.bottom + 15, fExp, SX, 'left');
    });
    ctx.restore();
  },
  afterDraw(chart) {
    const ctx = chart.ctx, a = chart.chartArea, xs = chart.scales.x, ys = chart.scales.y;
    const P = d => ({x: xs.getPixelForValue(d[0]), y: ys.getPixelForValue(d[1])});
    ctx.save();
    ctx.fillStyle = '#000';
    sText(ctx, titleText, 402, 81.5, 'bold 25.5px ' + SANS, 1.16, 'center');
    sText(ctx, xTitleText, a.right - 1, 686, 'bold 17px ' + SANS, 1.2, 'right');
    const wr = textW(ctx, xTitleText, 'bold 17px ' + SANS, 1.2);
    sText(ctx, xTitleSymbol, a.right - 1 - wr - 5, 686, '17px "Liberation Serif", "DejaVu Serif", serif', 1.2, 'right');
    ctx.save();
    ctx.translate(36, a.top);
    ctx.scale(1.15, 1);
    ctx.rotate(-Math.PI / 2);
    ctx.font = 'bold 18.5px ' + SANS;
    ctx.textAlign = 'right';
    ctx.textBaseline = 'alphabetic';
    ctx.fillText(yTitleText, 0, 0);
    ctx.restore();
    drawArrow(ctx, P(redArrow.tail), P(redArrow.tip), 12, 40, 20, '#ff0000');
    drawArrow(ctx, P(violetArrow.tail), P(violetArrow.tip), 13, 42, 20.5, '#cc00ff');
    ctx.fillStyle = '#ffff00';
    ctx.fillRect(751, 138, 70, 157);
    ctx.fillStyle = '#0a0a8c';
    sText(ctx, boxText, 771, 177, 'italic 32px ' + SANS, 0.85, 'left');
    ctx.restore();
  }
};

new Chart(document.getElementById('c'), {
  type: 'scatter',
  data: {
    datasets: [
      {label: 'cut', data: cutCurve, showLine: true, borderColor: '#ff00ff', borderWidth: 8.5, pointRadius: 0,
       clip: false, order: 0, cubicInterpolationMode: 'monotone', borderCapStyle: 'butt', borderJoinStyle: 'round'},
      {label: 'red', data: toXY(redTriangles), pointStyle: 'triangle', pointRadius: 4.6,
       pointBackgroundColor: '#ff0000', pointBorderColor: '#ff0000', pointBorderWidth: 0, order: 1},
      {label: 'green', data: toXY(greenCircles), pointStyle: 'circle', pointRadius: 5.2,
       pointBackgroundColor: '#00e600', pointBorderColor: '#00e600', pointBorderWidth: 0, order: 2},
      {label: 'blue', data: toXY(blueSquares), pointStyle: 'rect', pointRadius: 9.5,
       pointBackgroundColor: '#0000ff', pointBorderColor: '#3030ff', pointBorderWidth: 0, order: 3},
      {label: 'dots', data: allDots, pointStyle: 'rect', pointRadius: 1.6,
       pointBackgroundColor: '#000000', pointBorderColor: '#000000', pointBorderWidth: 0, order: 4}
    ]
  },
  options: {
    responsive: false,
    animation: false,
    devicePixelRatio: 1,
    events: [],
    layout: {padding: {left: 83, right: 90, top: 110, bottom: 70}},
    scales: {
      x: {type: 'logarithmic', min: xRange[0], max: xRange[1], display: false},
      y: {type: 'logarithmic', min: yRange[0], max: yRange[1], display: false}
    },
    plugins: {legend: {display: false}, tooltip: {enabled: false}, title: {display: false}}
  },
  plugins: [decor]
});
</script>
</body></html>
